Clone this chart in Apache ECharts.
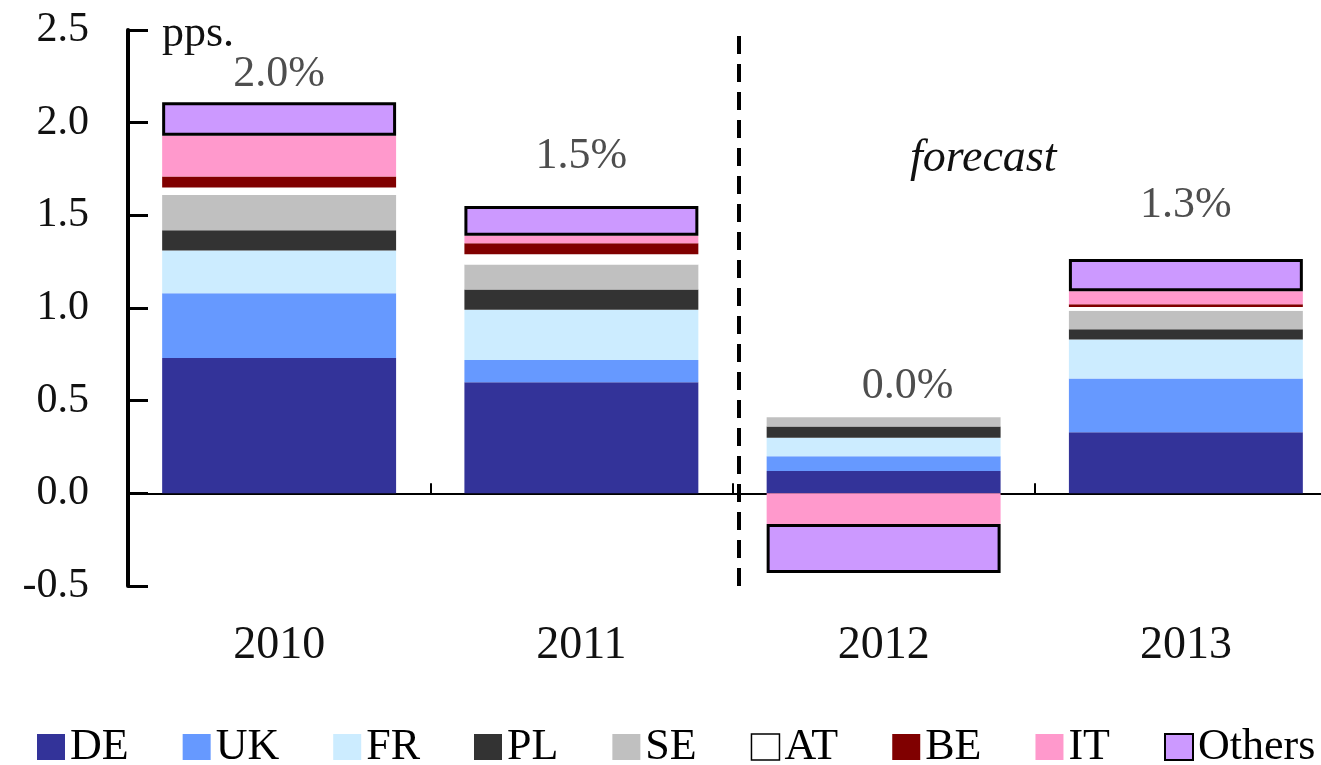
<!DOCTYPE html>
<html>
<head>
<meta charset="utf-8">
<script src="https://cdn.jsdelivr.net/npm/echarts@6/dist/echarts.min.js"></script>
<style>
html,body{margin:0;padding:0;background:#fff;}
#chart{width:1321px;height:765px;}
</style>
</head>
<body>
<div id="chart"></div>
<script>
// ---- data ----
const categories = ['2010', '2011', '2012', '2013'];
const seriesNames = ['DE', 'UK', 'FR', 'PL', 'SE', 'AT', 'BE', 'IT', 'Others'];
const DE     = [0.73, 0.60, 0.12, 0.33];
const UK     = [0.35, 0.12, 0.08, 0.29];
const FR     = [0.23, 0.27, 0.10, 0.21];
const PL     = [0.11, 0.11, 0.06, 0.055];
const SE     = [0.19, 0.135, 0.05, 0.10];
const AT     = [0.04, 0.055, 0, 0.02];
const BE     = [0.06, 0.06, 0, 0.015];
const IT     = [0.22, 0.04, -0.165, 0.07];
const Others = [0.18, 0.16, -0.265, 0.175];
const growthLabels = ['2.0%', '1.5%', '0.0%', '1.3%'];
const forecastText = 'forecast';
const unitText = 'pps.';

// ---- styling / build ----
const FONT = '"Liberation Serif", "Times New Roman", serif';
const colors = {
  DE: '#333399', UK: '#6699FF', FR: '#CCECFF', PL: '#333333', SE: '#C0C0C0',
  AT: '#FFFFFF', BE: '#800000', IT: '#FF99CC', Others: '#CC99FF'
};
const values = { DE, UK, FR, PL, SE, AT, BE, IT, Others };

const barSeries = seriesNames.map(name => {
  const s = {
    name: name,
    type: 'bar',
    stack: 'total',
    barCategoryGap: '22.6%',
    data: values[name],
    itemStyle: { color: colors[name] },
    emphasis: { disabled: true },
    animation: false
  };
  if (name === 'Others') {
    s.itemStyle = { color: colors[name], borderColor: '#000000', borderWidth: 3 };
  }
  return s;
});

// label anchor heights (annotation placement above bars)
const labelAnchor = [2.26, 1.82, 0.575, 1.555];
const labelShift = [0, 0, 24, 0];

const growthSeries = {
  name: 'growth',
  type: 'scatter',
  symbolSize: 0,
  silent: true,
  animation: false,
  data: categories.map((c, i) => ({
    value: [i, labelAnchor[i]],
    label: { offset: [labelShift[i], 0] }
  })),
  label: {
    show: true,
    position: 'inside',
    formatter: p => growthLabels[p.dataIndex],
    fontFamily: FONT,
    fontSize: 44,
    color: '#222'
  }
};

const dividerSeries = {
  name: 'divider',
  type: 'line',
  xAxisIndex: 1,
  yAxisIndex: 0,
  data: [],
  silent: true,
  animation: false,
  markLine: {
    silent: true,
    symbol: 'none',
    label: { show: false },
    lineStyle: { color: '#000', width: 4, type: [18, 10] },
    data: [{ xAxis: 2.02 }]
  }
};

const legendData = seriesNames.map(n => {
  if (n === 'AT') return { name: n, itemStyle: { color: '#FFFFFF', borderColor: '#000000', borderWidth: 1.5 } };
  if (n === 'Others') return { name: n, itemStyle: { color: colors.Others, borderColor: '#000000', borderWidth: 2 } };
  return { name: n };
});

const option = {
  backgroundColor: '#ffffff',
  animation: false,
  grid: { left: 128, top: 30, bottom: 179, width: 1209, containLabel: false, outerBoundsMode: 'none' },
  legend: {
    data: legendData,
    left: 37,
    top: 725,
    padding: 0,
    width: 1284,
    icon: 'rect',
    itemWidth: 28,
    itemHeight: 26,
    itemGap: 54,
    selectedMode: false,
    textStyle: { fontFamily: FONT, fontSize: 44, color: '#000' }
  },
  xAxis: [
    {
      type: 'category',
      data: categories,
      axisLine: { onZero: true, lineStyle: { color: '#000', width: 2 } },
      axisTick: { show: true, inside: true, length: 10, lineStyle: { color: '#000', width: 2 } },
      axisLabel: { margin: 37, fontFamily: FONT, fontSize: 46, color: '#111' },
      splitLine: { show: false }
    },
    {
      type: 'value',
      min: 0,
      max: 4,
      show: false,
      position: 'bottom'
    }
  ],
  yAxis: {
    type: 'value',
    min: -0.5,
    max: 2.5,
    interval: 0.5,
    name: unitText,
    nameLocation: 'end',
    nameGap: 18,
    nameTextStyle: { fontFamily: FONT, fontSize: 44, color: '#111', align: 'left', verticalAlign: 'top', padding: [0, 0, 0, 34] },
    axisLine: { show: true, onZero: false, lineStyle: { color: '#000', width: 4 } },
    axisTick: { show: true, inside: true, length: 20, lineStyle: { color: '#000', width: 3 } },
    axisLabel: {
      margin: 39,
      fontFamily: FONT,
      fontSize: 42,
      color: '#111',
      formatter: v => v.toFixed(1)
    },
    splitLine: { show: false }
  },
  graphic: [
    {
      type: 'text',
      left: 910,
      top: 136,
      silent: true,
      style: { text: forecastText, font: 'italic 46px ' + FONT, fill: '#111' }
    }
  ],
  series: barSeries.concat([growthSeries, dividerSeries])
};

const chart = echarts.init(document.getElementById('chart'), null, { renderer: 'canvas' });
chart.setOption(option);
</script>
</body>
</html>
